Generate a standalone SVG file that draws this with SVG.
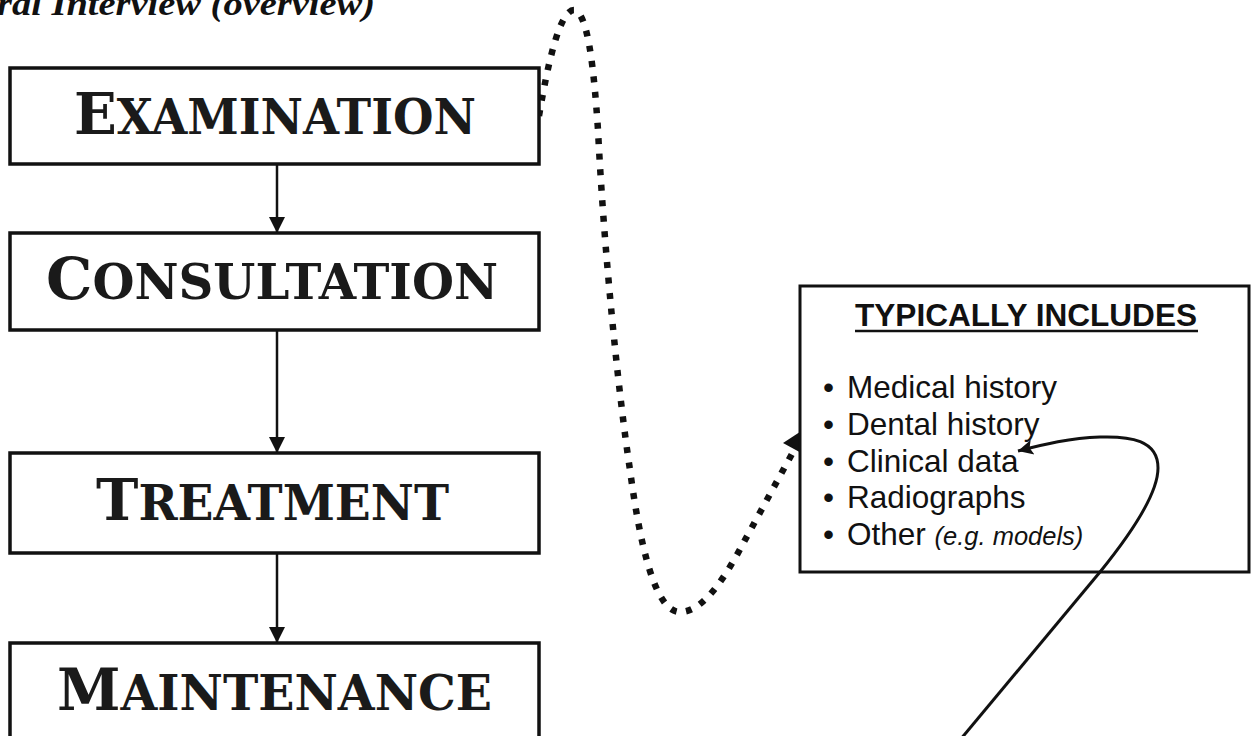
<svg xmlns="http://www.w3.org/2000/svg" width="1252" height="736" viewBox="0 0 1252 736">
<style>
.box{fill:#fff;stroke:#111;stroke-width:3.5}
.lbl{font-family:"DejaVu Serif","Liberation Serif",serif;font-weight:bold;fill:#1a1a1a}
.big{font-size:58px}
.sm{font-size:48px}
.conn{fill:none;stroke:#111;stroke-width:2.5}
.dots{fill:none;stroke:#111;stroke-width:6.5;stroke-dasharray:6 9.5}
.list{font-family:"Liberation Sans",Arial,sans-serif;font-size:31.5px;fill:#111}
</style>
<defs>
<marker id="ah" viewBox="0 0 10 10" refX="10" refY="5" markerWidth="6.4" markerHeight="6.4" orient="auto" markerUnits="strokeWidth">
<path d="M0,0 L10,5 L0,10 z" fill="#111"/>
</marker>
<marker id="ah2" viewBox="0 0 10 10" refX="10" refY="5" markerWidth="6.5" markerHeight="5" orient="auto" markerUnits="strokeWidth">
<path d="M0,0 L10,5 L0,10 L2,5 z" fill="#111"/>
</marker>
</defs>

<text x="-3" y="15" font-family="Liberation Serif,serif" font-style="italic" font-weight="bold" font-size="34" textLength="378" lengthAdjust="spacingAndGlyphs" fill="#111">ral Interview (overview)</text>

<g id="connectors">
<line class="conn" x1="277" y1="164" x2="277" y2="233" marker-end="url(#ah)"/>
<line class="conn" x1="277" y1="330" x2="277" y2="453" marker-end="url(#ah)"/>
<line class="conn" x1="277" y1="553" x2="277" y2="643" marker-end="url(#ah)"/>
<path class="dots" d="M539,116 C548,62 560,10 574,10 C588,12 594,70 598,130 C604,250 618,390 630,470 C640,545 655,612 680,612 C705,612 728,572 745,540 L793,452"/>
<polygon points="783,443 806,428 805,455" fill="#111"/>
<path d="M960,740 L1100,572" fill="none" stroke="#111" stroke-width="3"/>
</g>

<g id="examination">
<rect class="box" x="10" y="68" width="529" height="96"/>
<text class="lbl" x="74" y="134" textLength="402" lengthAdjust="spacingAndGlyphs"><tspan class="big">E</tspan><tspan class="sm">XAMINATION</tspan></text>
</g>
<g id="consultation">
<rect class="box" x="10" y="233" width="529" height="97"/>
<text class="lbl" x="46" y="299" textLength="452" lengthAdjust="spacingAndGlyphs"><tspan class="big">C</tspan><tspan class="sm">ONSULTATION</tspan></text>
</g>
<g id="treatment">
<rect class="box" x="10" y="453" width="529" height="100"/>
<text class="lbl" x="96" y="520" textLength="353" lengthAdjust="spacingAndGlyphs"><tspan class="big">T</tspan><tspan class="sm">REATMENT</tspan></text>
</g>
<g id="maintenance">
<rect class="box" x="10" y="643" width="529" height="95"/>
<text class="lbl" x="57" y="710" textLength="435" lengthAdjust="spacingAndGlyphs"><tspan class="big">M</tspan><tspan class="sm">AINTENANCE</tspan></text>
</g>

<g id="includes">
<rect class="box" x="800" y="286" width="449" height="286" style="stroke-width:3"/>
<text x="855" y="326" font-family="Liberation Sans,Arial,sans-serif" font-weight="bold" font-size="31" textLength="342" lengthAdjust="spacingAndGlyphs" fill="#111">TYPICALLY INCLUDES</text>
<line x1="855" y1="331" x2="1198" y2="331" stroke="#111" stroke-width="2.5"/>
<text class="list" x="823" y="398">•<tspan x="847">Medical history</tspan></text>
<text class="list" x="823" y="435">•<tspan x="847">Dental history</tspan></text>
<text class="list" x="823" y="472">•<tspan x="847">Clinical data</tspan></text>
<text class="list" x="823" y="508">•<tspan x="847">Radiographs</tspan></text>
<text class="list" x="823" y="545">•<tspan x="847">Other </tspan><tspan font-style="italic" font-size="25.5">(e.g. models)</tspan></text>
</g>
<path d="M1100,572 C1130,535 1158,495 1158,468 C1158,440 1130,436 1100,437 C1070,438 1045,444 1018,451" fill="none" stroke="#111" stroke-width="3" marker-end="url(#ah2)"/>
</svg>
